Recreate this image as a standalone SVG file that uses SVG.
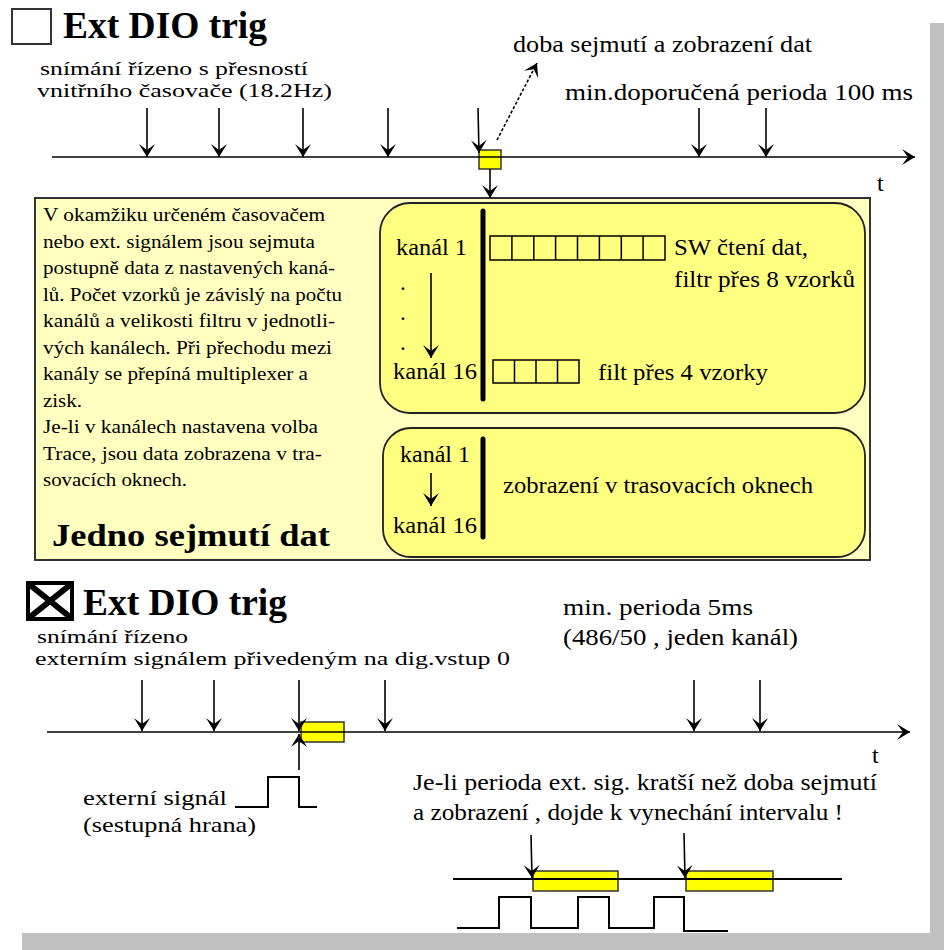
<svg xmlns="http://www.w3.org/2000/svg" width="944" height="950" viewBox="0 0 944 950">
<style>
text{font-family:"Liberation Serif","Times New Roman",Times,serif;fill:#000}
.t{font-size:24px}
.s{font-size:23px}
.n{font-size:19px}
.m{font-size:22px}
.p{font-size:19px}
.k{font-size:23px}
.h{font-size:37px;font-weight:bold}
.b{font-size:31px;font-weight:bold}
.ln{stroke:#000;stroke-width:2;fill:none}
.ar{stroke:#000;stroke-width:1.6;fill:none;marker-end:url(#ah)}
.yb{fill:#FFFF00;stroke:#333;stroke-width:1.5}
.rb{fill:#FFFF80;stroke:#222;stroke-width:1.8}
.cell{fill:none;stroke:#000;stroke-width:1.5}
.bar{stroke:#000;stroke-width:5;stroke-linecap:round}
</style>
<defs>
<marker id="ah" viewBox="0 0 13 16" refX="13" refY="8" markerWidth="13" markerHeight="16" markerUnits="userSpaceOnUse" orient="auto">
<path d="M13,8 L0,0 L6,8 L0,16 Z" fill="#000"/>
</marker>
</defs>
<rect x="0" y="0" width="944" height="950" fill="#fff"/>
<g id="shadow">
<rect x="930" y="23" width="14" height="927" fill="#C0C0C0"/>
<rect x="22" y="933" width="922" height="17" fill="#C0C0C0"/>
</g>

<g id="top-header">
<rect x="12" y="9" width="39" height="35" fill="#fff" stroke="#333" stroke-width="2"/>
<text class="h" x="63" y="38" textLength="204" lengthAdjust="spacingAndGlyphs">Ext DIO trig</text>
<text class="n" x="40" y="75" textLength="268" lengthAdjust="spacingAndGlyphs">snímání řízeno s přesností</text>
<text class="n" x="37" y="97" textLength="295" lengthAdjust="spacingAndGlyphs">vnitřního časovače (18.2Hz)</text>
<text class="s" x="513" y="52" textLength="299" lengthAdjust="spacingAndGlyphs">doba sejmutí  a zobrazení dat</text>
<text class="t" x="565" y="100" textLength="348" lengthAdjust="spacingAndGlyphs">min.doporučená perioda 100 ms</text>
<text class="t" x="877" y="191">t</text>
</g>

<g id="top-sample">
<rect class="yb" x="479" y="150" width="22" height="19"/>
</g>

<g id="panel">
<rect x="35" y="198" width="835" height="362" fill="#FFFFC0" stroke="#333" stroke-width="2"/>
<text class="p" x="43" y="221" textLength="282" lengthAdjust="spacingAndGlyphs">V okamžiku určeném časovačem</text>
<text class="p" x="43" y="247.5" textLength="272" lengthAdjust="spacingAndGlyphs">nebo ext. signálem jsou sejmuta</text>
<text class="p" x="43" y="274" textLength="292" lengthAdjust="spacingAndGlyphs">postupně data z nastavených kaná-</text>
<text class="p" x="43" y="300.5" textLength="299" lengthAdjust="spacingAndGlyphs">lů. Počet vzorků je závislý na počtu</text>
<text class="p" x="43" y="327" textLength="292" lengthAdjust="spacingAndGlyphs">kanálů a velikosti filtru v jednotli-</text>
<text class="p" x="43" y="353.5" textLength="289" lengthAdjust="spacingAndGlyphs">vých kanálech. Při přechodu mezi</text>
<text class="p" x="43" y="380" textLength="265" lengthAdjust="spacingAndGlyphs">kanály se přepíná multiplexer a</text>
<text class="p" x="43" y="406.5" textLength="39" lengthAdjust="spacingAndGlyphs">zisk.</text>
<text class="p" x="43" y="433" textLength="275" lengthAdjust="spacingAndGlyphs">Je-li v kanálech nastavena volba</text>
<text class="p" x="43" y="459.5" textLength="279" lengthAdjust="spacingAndGlyphs">Trace, jsou data zobrazena v tra-</text>
<text class="p" x="43" y="486" textLength="144" lengthAdjust="spacingAndGlyphs">sovacích oknech.</text>
<text class="b" x="52" y="546" textLength="278" lengthAdjust="spacingAndGlyphs">Jedno sejmutí dat</text>
</g>

<g id="read-box">
<rect class="rb" x="380" y="203" width="485" height="210" rx="30" ry="30"/>
<line class="bar" x1="483" y1="211" x2="483" y2="399"/>
<text class="k" x="396" y="255" textLength="71" lengthAdjust="spacingAndGlyphs">kanál 1</text>
<text class="k" x="400" y="290">.</text>
<text class="k" x="400" y="320">.</text>
<text class="k" x="400" y="350">.</text>
<text class="k" x="393" y="379" textLength="84" lengthAdjust="spacingAndGlyphs">kanál 16</text>
<rect class="cell" x="490" y="236" width="175" height="24"/>
<path class="cell" d="M511.9,236V260M533.8,236V260M555.6,236V260M577.5,236V260M599.4,236V260M621.3,236V260M643.1,236V260"/>
<text class="k" x="674" y="255" textLength="134" lengthAdjust="spacingAndGlyphs">SW čtení dat,</text>
<text class="k" x="674" y="287" textLength="181" lengthAdjust="spacingAndGlyphs">filtr přes 8 vzorků</text>
<rect class="cell" x="493" y="360" width="86" height="23"/>
<path class="cell" d="M514.5,360V383M536,360V383M557.5,360V383"/>
<text class="k" x="598" y="380" textLength="170" lengthAdjust="spacingAndGlyphs">filt přes 4 vzorky</text>
</g>

<g id="display-box">
<rect class="rb" x="383" y="428" width="482" height="129" rx="28" ry="28"/>
<line class="bar" x1="483" y1="439" x2="483" y2="537"/>
<text class="k" x="400" y="462" textLength="70" lengthAdjust="spacingAndGlyphs">kanál 1</text>
<text class="k" x="393" y="533" textLength="84" lengthAdjust="spacingAndGlyphs">kanál 16</text>
<text class="k" x="503" y="493" textLength="310" lengthAdjust="spacingAndGlyphs">zobrazení v trasovacích oknech</text>
</g>

<g id="bottom-header">
<rect x="28" y="583" width="44" height="36" fill="#fff" stroke="#000" stroke-width="4"/>
<path d="M30,585 L70,617 M70,585 L30,617" stroke="#000" stroke-width="6"/>
<text class="h" x="83" y="615" textLength="204" lengthAdjust="spacingAndGlyphs">Ext DIO trig</text>
<text class="n" x="37" y="643" textLength="151" lengthAdjust="spacingAndGlyphs">snímání řízeno</text>
<text class="n" x="35" y="665" textLength="475" lengthAdjust="spacingAndGlyphs">externím signálem přivedeným na dig.vstup 0</text>
<text class="t" x="563" y="615" textLength="190" lengthAdjust="spacingAndGlyphs">min. perioda 5ms</text>
<text class="t" x="563" y="645" textLength="235" lengthAdjust="spacingAndGlyphs">(486/50 , jeden kanál)</text>
<text class="t" x="872" y="763">t</text>
<text class="m" x="83" y="805" textLength="144" lengthAdjust="spacingAndGlyphs">externí signál</text>
<text class="m" x="83" y="832" textLength="173" lengthAdjust="spacingAndGlyphs">(sestupná hrana)</text>
<text class="t" x="413" y="790" textLength="464" lengthAdjust="spacingAndGlyphs">Je-li perioda ext.  sig. kratší než doba sejmutí</text>
<text class="t" x="413" y="820" textLength="430" lengthAdjust="spacingAndGlyphs">a zobrazení ,  dojde k vynechání  intervalu !</text>
</g>

<g id="bottom-sample">
<rect class="yb" x="301" y="722" width="43" height="20"/>
</g>

<g id="missed-samples">
<rect class="yb" x="533" y="871" width="85" height="20"/>
<rect class="yb" x="686" y="871" width="87" height="20"/>
</g>

<g id="signals">
<path class="ln" d="M235,807 H268 V777 H299 V807 H317"/>
<path class="ln" d="M457,928 H499 V897 H531 V928 H578 V897 H609 V928 H654 V897 H684 V931 H728"/>
</g>

<g id="connectors">
<line class="ar" x1="52" y1="157" x2="915" y2="157"/>
<line class="ar" x1="147" y1="108" x2="147" y2="157"/>
<line class="ar" x1="219" y1="108" x2="219" y2="157"/>
<line class="ar" x1="303" y1="108" x2="303" y2="157"/>
<line class="ar" x1="388" y1="108" x2="388" y2="157"/>
<line class="ar" x1="478" y1="108" x2="479" y2="153"/>
<line class="ar" x1="699" y1="108" x2="699" y2="157"/>
<line class="ar" x1="766" y1="108" x2="766" y2="157"/>
<line class="ar" x1="490" y1="169" x2="490" y2="198"/>
<line class="ar" x1="497" y1="140" x2="537" y2="63" stroke-dasharray="3,2"/>
<line class="ar" x1="431" y1="273" x2="431" y2="358"/>
<line class="ar" x1="431" y1="473" x2="431" y2="506"/>

<line class="ar" x1="47" y1="732" x2="910" y2="732"/>
<line class="ar" x1="142" y1="680" x2="142" y2="731"/>
<line class="ar" x1="214" y1="680" x2="214" y2="731"/>
<line class="ar" x1="299" y1="680" x2="299" y2="731"/>
<line class="ar" x1="385" y1="680" x2="385" y2="731"/>
<line class="ar" x1="694" y1="680" x2="694" y2="731"/>
<line class="ar" x1="760" y1="680" x2="760" y2="731"/>
<line class="ar" x1="299" y1="770" x2="299" y2="734"/>

<line class="ln" x1="453" y1="879" x2="842" y2="879"/>
<line class="ar" x1="531" y1="835" x2="532" y2="878"/>
<line class="ar" x1="684" y1="833" x2="685" y2="878"/>
</g>
</svg>
